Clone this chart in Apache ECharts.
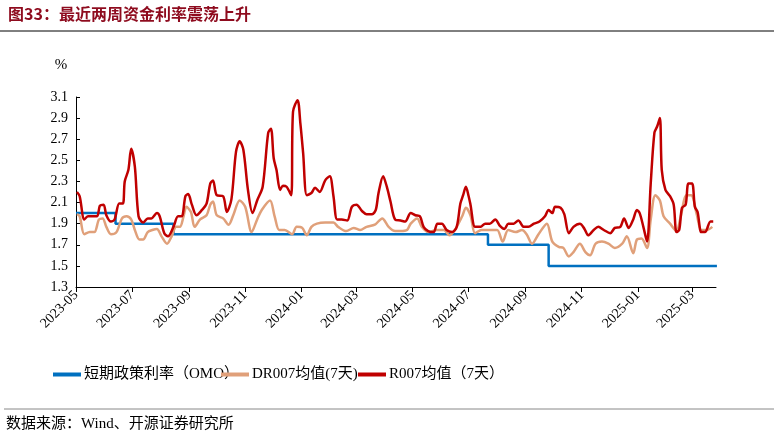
<!DOCTYPE html>
<html><head><meta charset="utf-8">
<script src="https://cdn.jsdelivr.net/npm/echarts@6/dist/echarts.min.js"></script>
<style>html,body{margin:0;padding:0;background:#fff}#c{width:774px;height:439px}</style>
</head><body><div id="c"></div>
<script>
// x values are days since 2023-05-01
const startDate = '2023-05-01';
const tickLabels = ['2023-05','2023-07','2023-09','2023-11','2024-01','2024-03','2024-05','2024-07','2024-09','2024-11','2025-01','2025-03'];
const yTicks = [1.3,1.5,1.7,1.9,2.1,2.3,2.5,2.7,2.9,3.1];
const omoDays = [0,43,106,448,514,697];
const omoVals = [2.0,1.9,1.8,1.7,1.5,1.5];
const r007Days = [1,4,9,13,19,23,26,30,33,38,42,47,51,53,57,60,64,68,73,78,82,88,91,96,100,106,111,115,119,122,126,131,137,142,146,149,153,160,164,169,174,178,182,187,192,197,203,209,212,215,218,222,225,229,234,236,241,244,247,251,256,260,265,271,276,280,284,289,295,300,305,311,316,322,326,329,334,338,342,347,353,358,364,369,374,378,383,389,393,398,403,409,414,418,421,424,427,429,434,440,445,450,456,461,466,470,476,481,487,492,498,504,510,514,518,521,527,531,536,541,548,553,557,563,568,574,581,586,592,596,601,606,610,613,617,621,625,629,632,635,637,641,646,650,653,656,659,663,666,670,673,676,680,684,690,693];
const r007Vals = [2.20,2.16,1.94,1.97,1.97,1.97,2.07,2.08,1.98,1.92,1.94,2.09,2.09,2.30,2.41,2.61,2.44,1.97,1.91,1.95,1.95,2.00,1.97,1.81,1.78,1.87,1.97,1.97,2.16,2.18,2.08,1.98,2.03,2.09,2.28,2.31,2.17,2.16,2.01,2.13,2.58,2.68,2.60,2.22,2.00,2.12,2.25,2.76,2.80,2.52,2.41,2.22,2.26,2.25,2.17,2.96,3.07,2.85,2.57,2.17,2.19,2.24,2.20,2.31,2.35,2.16,1.94,1.94,1.93,2.06,2.08,2.02,1.99,1.99,2.03,2.19,2.35,2.25,2.11,1.94,1.93,1.92,2.00,1.98,1.97,1.87,1.83,1.82,1.90,1.90,1.84,1.82,1.87,2.09,2.17,2.25,2.16,2.08,1.87,1.87,1.90,1.90,1.94,1.88,1.85,1.90,1.90,1.93,1.87,1.87,1.90,1.92,1.97,2.03,2.00,2.06,2.05,1.99,1.81,1.87,1.90,1.85,1.79,1.84,1.87,1.84,1.81,1.86,1.87,1.95,1.86,1.94,2.03,2.00,1.87,1.73,2.28,2.76,2.82,2.90,2.41,2.22,2.16,2.08,1.82,1.84,2.05,2.08,2.28,2.28,2.06,2.01,1.82,1.82,1.92,1.92];
const dr007Days = [1,4,9,15,20,25,29,33,38,44,50,55,60,64,69,73,78,83,88,93,99,104,109,113,117,120,125,129,135,142,146,149,153,160,166,171,178,184,191,197,202,211,216,221,227,235,240,246,251,256,262,271,280,285,294,302,309,316,325,333,340,347,353,360,364,371,376,383,392,400,406,412,420,424,429,434,441,450,458,464,470,478,485,490,496,503,512,518,525,530,536,541,548,554,559,565,572,579,586,594,599,606,610,615,621,625,630,635,639,646,653,657,664,669,675,680,686,692];
const dr007Vals = [1.99,1.97,1.80,1.82,1.82,1.94,1.95,1.87,1.80,1.82,1.95,1.97,1.94,1.84,1.75,1.75,1.82,1.84,1.85,1.78,1.71,1.78,1.87,1.87,1.97,2.06,2.01,1.87,1.94,1.98,2.08,2.11,1.98,1.95,1.89,1.98,2.12,2.06,1.82,1.94,2.03,2.12,1.97,1.84,1.84,1.80,1.87,1.86,1.79,1.87,1.90,1.91,1.91,1.87,1.83,1.86,1.84,1.87,1.89,1.95,1.87,1.83,1.83,1.84,1.90,1.95,1.87,1.82,1.84,1.84,1.79,1.84,1.97,2.05,1.98,1.81,1.84,1.84,1.84,1.73,1.84,1.82,1.84,1.80,1.71,1.80,1.90,1.73,1.68,1.67,1.59,1.63,1.71,1.63,1.60,1.71,1.73,1.71,1.67,1.71,1.78,1.62,1.75,1.76,1.67,1.94,2.17,2.12,1.97,1.90,1.83,1.94,2.17,2.17,1.99,1.84,1.84,1.87];

const t0 = Date.parse(startDate + 'T00:00:00Z');
const toDay = s => Math.round((Date.parse(s + '-01T00:00:00Z') - t0) / 86400000);
const tickDays = tickLabels.map(toDay);
const labelOf = {}; tickDays.forEach((d,i)=>labelOf[d]=tickLabels[i]);
const zip = (a,b)=>a.map((d,i)=>[d,b[i]]);
const serif = '"Liberation Serif","Noto Sans CJK SC",serif';
const names = ['短期政策利率（OMO）','DR007均值(7天)','R007均值（7天）'];
const legendX = [48,216,353];
const legendBase = {top:362,itemWidth:28,itemHeight:4,icon:'rect',itemGap:4,textStyle:{color:'#000',fontSize:15,fontFamily:serif,padding:[0,0,0,-2]}};
const chart = echarts.init(document.getElementById('c'));
chart.setOption({
  animation:false,
  grid:{left:76,right:58,top:97,bottom:152},
  xAxis:{type:'value',min:0,max:696,
    axisLine:{lineStyle:{color:'#000',width:1}},
    axisTick:{show:true,customValues:tickDays,length:5,lineStyle:{color:'#000'}},
    splitLine:{show:false},
    axisLabel:{customValues:tickDays,formatter:v=>labelOf[v]||'',rotate:45,color:'#000',fontSize:14,fontFamily:serif,margin:6}
  },
  yAxis:{type:'value',min:1.3,max:3.1,interval:0.2,
    name:'%',nameLocation:'end',nameGap:24,nameTextStyle:{color:'#000',fontSize:15,fontFamily:serif,padding:[0,30,0,0]},
    axisLine:{show:true,lineStyle:{color:'#000',width:1}},
    axisTick:{show:true,inside:true,length:4,lineStyle:{color:'#000'}},
    splitLine:{show:false},
    axisLabel:{color:'#000',fontSize:14,fontFamily:serif,formatter:v=>v.toFixed(1),margin:8}
  },
  legend:names.map((n,i)=>Object.assign({left:legendX[i],data:[n]},legendBase)),
  series:[
    {name:names[0],type:'line',step:'end',data:zip(omoDays,omoVals),showSymbol:false,lineStyle:{color:'#0070C0',width:2.5},itemStyle:{color:'#0070C0'}},
    {name:names[1],type:'line',data:zip(dr007Days,dr007Vals),showSymbol:false,smooth:0.3,lineStyle:{color:'#E0A07A',width:2.5},itemStyle:{color:'#E0A07A'}},
    {name:names[2],type:'line',data:zip(r007Days,r007Vals),showSymbol:false,smooth:0.3,lineStyle:{color:'#C00000',width:2.5},itemStyle:{color:'#C00000'}}
  ],
  graphic:[
    {type:'text',left:8,top:6,style:{text:'图33：最近两周资金利率震荡上升',fill:'#8E0B1E',font:'bold 16px "Noto Sans CJK SC", sans-serif'}},
    {type:'line',shape:{x1:0,y1:31,x2:774,y2:31},style:{stroke:'#000',lineWidth:1}},
    {type:'line',shape:{x1:4,y1:409,x2:774,y2:409},style:{stroke:'#888',lineWidth:1}},
    {type:'text',left:6,top:417,style:{text:'数据来源：Wind、开源证券研究所',fill:'#000',font:'15px "Liberation Serif","Noto Sans CJK SC",serif'}}
  ]
});
</script></body></html>
